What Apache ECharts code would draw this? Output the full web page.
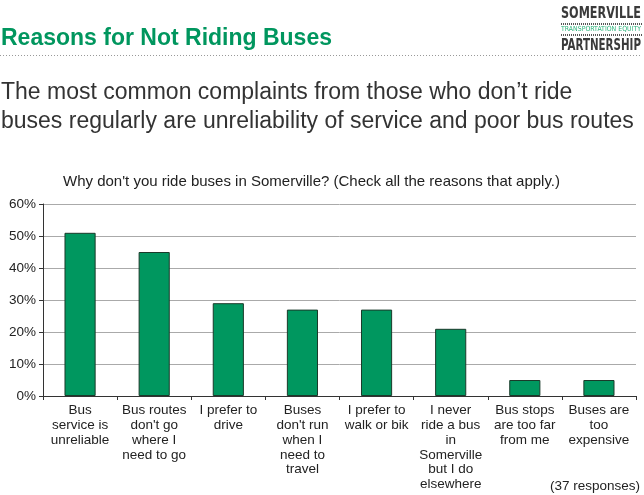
<!DOCTYPE html>
<html><head><meta charset="utf-8">
<script src="https://cdn.jsdelivr.net/npm/echarts@6/dist/echarts.min.js"></script>
<style>html,body{margin:0;padding:0;background:#fff}#c{width:644px;height:495px}</style>
</head><body><div id="c"></div>
<script>
const categories = [
  "Bus\nservice is\nunreliable",
  "Bus routes\ndon't go\nwhere I\nneed to go",
  "I prefer to\ndrive",
  "Buses\ndon't run\nwhen I\nneed to\ntravel",
  "I prefer to\nwalk or bik",
  "I never\nride a bus\nin\nSomerville\nbut I do\nelsewhere",
  "Bus stops\nare too far\nfrom me",
  "Buses are\ntoo\nexpensive"
];
const values = [51, 45, 29, 27, 27, 21, 5, 5];
const yTicks = [0, 10, 20, 30, 40, 50, 60];

const F = "Liberation Sans, Arial, sans-serif";
const N = '"DejaVu Sans Condensed", "DejaVu Sans", sans-serif';
const ctx = document.createElement('canvas').getContext('2d');
function fitScale(text, font, w) { ctx.font = font; return w / ctx.measureText(text).width; }
function logoText(text, font, y, fill, w) {
  const s = fitScale(text, font, w);
  return {type: 'text', x: 561, y: y, scaleX: s, style: {text: text, fill: fill, font: font}};
}
const fS = 'bold 16px ' + N, fT = '7px ' + N, fP = 'bold 15.5px ' + N;

const chart = echarts.init(document.getElementById('c'));
chart.setOption({
  animation: false,
  grid: {left: 43, right: 8, top: 204, bottom: 99, containLabel: false, outerBoundsMode: 'none'},
  xAxis: {
    type: 'category', data: categories,
    axisLine: {lineStyle: {color: '#333', width: 1}},
    axisTick: {show: true, length: 4, lineStyle: {color: '#333'}},
    axisLabel: {color: '#222', fontFamily: F, fontSize: 13.5, lineHeight: 14.8, margin: 7, interval: 0}
  },
  yAxis: {
    type: 'value', min: 0, max: 60, interval: 10,
    axisLine: {show: true, lineStyle: {color: '#333'}},
    axisTick: {show: true, length: 4, lineStyle: {color: '#333'}},
    axisLabel: {color: '#222', fontFamily: F, fontSize: 13.5, margin: 7, formatter: v => v + '%'},
    splitLine: {lineStyle: {color: '#aaa', width: 1}}
  },
  series: [{
    type: 'bar', data: values, barWidth: '42%',
    itemStyle: {color: '#00975f', borderColor: '#1a3a2a', borderWidth: 1}
  }],
  graphic: [
    {type: 'text', left: 1, top: 27, style: {text: 'Reasons for Not Riding Buses', fill: '#00965e', font: 'bold 23px ' + F}},
    {type: 'line', shape: {x1: 0, y1: 55.5, x2: 642, y2: 55.5}, style: {stroke: '#999', lineWidth: 1, lineDash: [1, 2]}},
    {type: 'text', left: 1, top: 78, style: {text: 'The most common complaints from those who don\u2019t ride\nbuses regularly are unreliability of service and poor bus routes', fill: '#333', font: '23px ' + F, lineHeight: 29}},
    {type: 'text', left: 63, top: 174, style: {text: "Why don't you ride buses in Somerville? (Check all the reasons that apply.)", fill: '#222', font: '15px ' + F}},
    {type: 'text', right: 4, top: 479, style: {text: '(37 responses)', fill: '#222', font: '13.5px ' + F}},
    logoText('SOMERVILLE', fS, 6, '#3a3a3a', 80),
    {type: 'line', shape: {x1: 561, y1: 24, x2: 642, y2: 24}, style: {stroke: '#555', lineWidth: 2, lineDash: [1, 1]}},
    logoText('TRANSPORTATION EQUITY', fT, 26, '#2db37a', 80),
    {type: 'line', shape: {x1: 561, y1: 35, x2: 642, y2: 35}, style: {stroke: '#555', lineWidth: 2, lineDash: [1, 1]}},
    logoText('PARTNERSHIP', fP, 38, '#3a3a3a', 80)
  ]
});
</script></body></html>
